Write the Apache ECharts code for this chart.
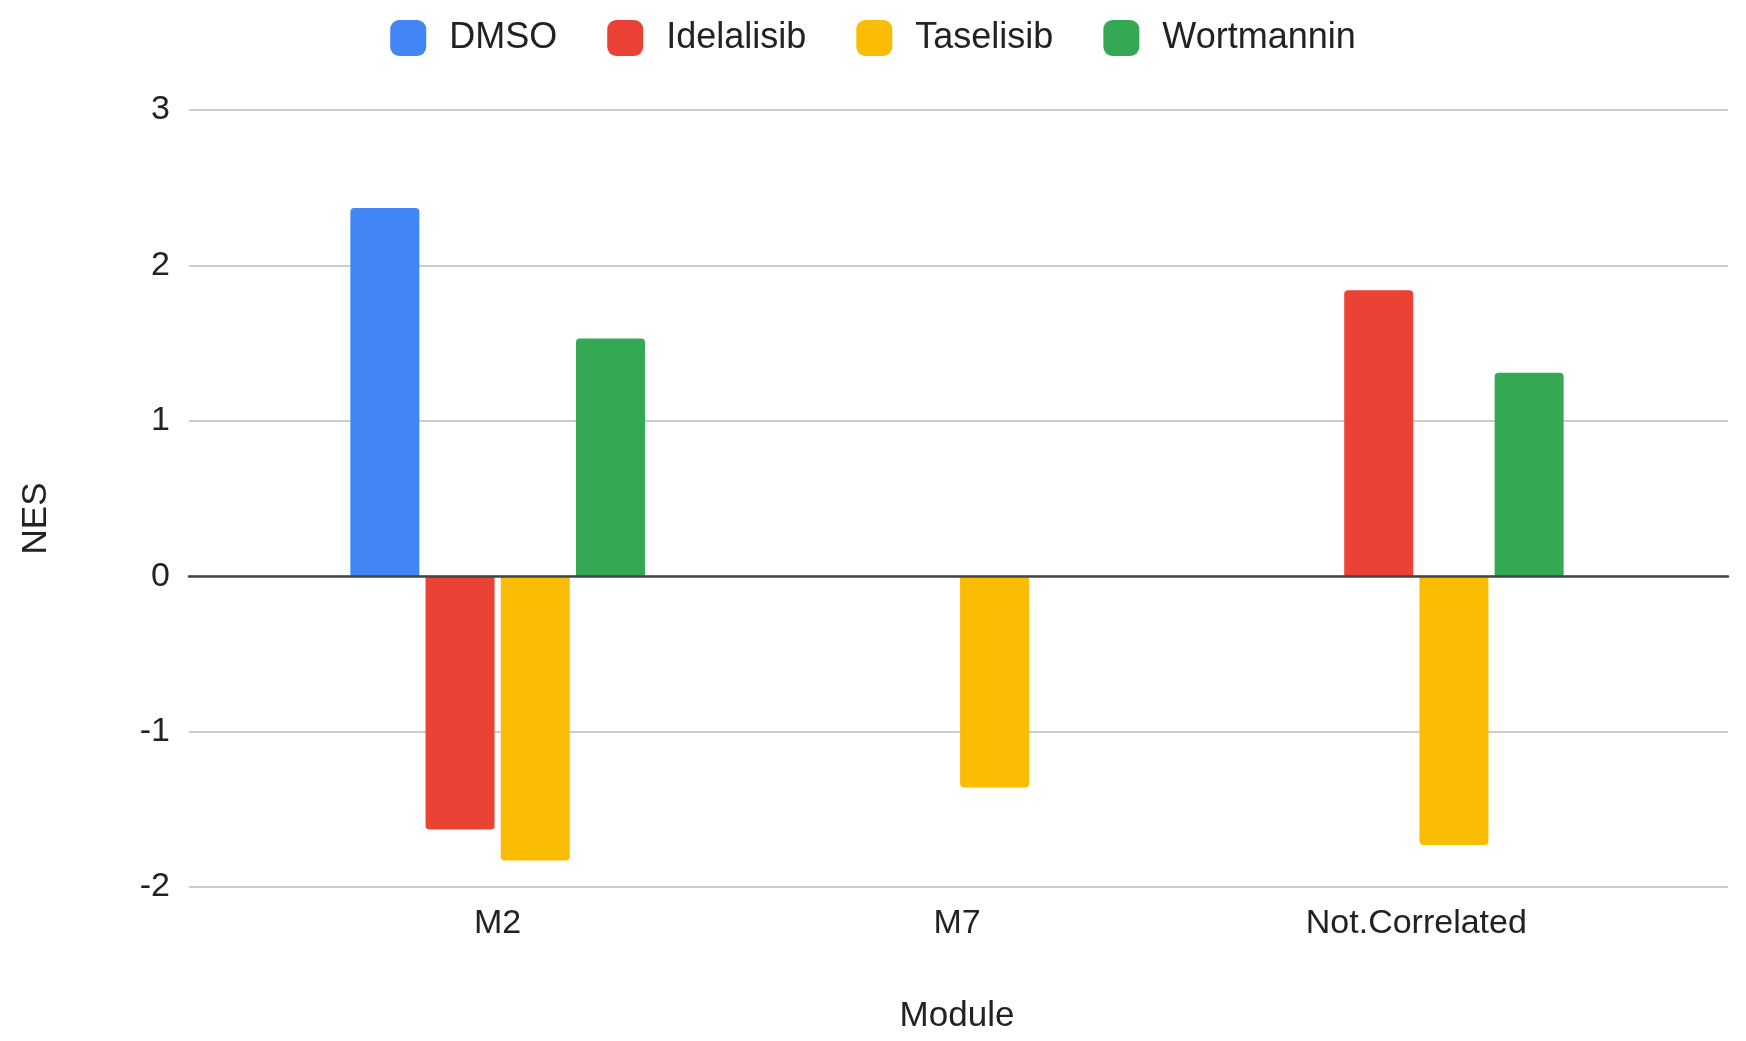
<!DOCTYPE html>
<html>
<head>
<meta charset="utf-8">
<script src="https://cdn.jsdelivr.net/npm/echarts@6/dist/echarts.min.js"></script>
<style>
  html, body { margin: 0; padding: 0; background: #fff; }
  #chart { width: 1746px; height: 1041px; }
</style>
</head>
<body>
<div id="chart"></div>
<script>
const modules = ['M2', 'M7', 'Not.Correlated']
const seriesNames = ['DMSO', 'Idelalisib', 'Taselisib', 'Wortmannin']
const dmso = [2.37, null, null]
const idelalisib = [-1.63, null, 1.84]
const taselisib = [-1.83, -1.36, -1.73]
const wortmannin = [1.53, null, 1.31]
const colors = ['#4285F4', '#EA4335', '#FBBC04', '#34A853']

const font = "'Liberation Sans', Arial, sans-serif"

function toBars(values) {
  return values.map(v => {
    if (v == null) return '-'
    return { value: v, itemStyle: { borderRadius: v >= 0 ? [4, 4, 0, 0] : [0, 0, 4, 4] } }
  })
}

const chart = echarts.init(document.getElementById('chart'))
const allValues = [dmso, idelalisib, taselisib, wortmannin]

const option = {
  animation: false,
  color: colors,
  textStyle: { fontFamily: font },
  legend: {
    data: seriesNames,
    top: 15,
    left: 'center',
    icon: 'roundRect',
    itemWidth: 36,
    itemHeight: 36,
    itemGap: 50,
    textStyle: { fontSize: 36, color: '#222', fontFamily: font, padding: [0, 0, 0, 18] }
  },
  grid: [
    // wide grid: gridlines and zero line
    { left: 189, right: 18, top: 110, bottom: 154 },
    // bar grid
    { left: 268, right: 100, top: 110, bottom: 154 }
  ],
  xAxis: [
    {
      gridIndex: 0,
      type: 'category',
      data: [''],
      z: 5,
      axisLine: { show: true, onZero: true, lineStyle: { color: '#444', width: 2.5 } },
      axisTick: { show: false },
      axisLabel: { show: false },
      splitLine: { show: false }
    },
    {
      gridIndex: 1,
      type: 'category',
      data: modules,
      axisLine: { show: false, onZero: false },
      axisTick: { show: false },
      axisLabel: { fontSize: 34, color: '#222', margin: 20, fontFamily: font },
      name: 'Module',
      nameLocation: 'middle',
      nameGap: 112,
      nameTextStyle: { fontSize: 35, color: '#222', fontFamily: font }
    }
  ],
  yAxis: [
    {
      gridIndex: 0,
      type: 'value',
      min: -2,
      max: 3,
      interval: 1,
      axisLine: { show: false },
      axisTick: { show: false },
      axisLabel: { fontSize: 34, color: '#222', margin: 19, fontFamily: font },
      splitLine: { lineStyle: { color: '#cccccc', width: 2 } },
      name: 'NES',
      nameLocation: 'middle',
      nameGap: 135,
      nameTextStyle: { fontSize: 35, color: '#222', fontFamily: font, padding: [0, 40, 0, 0] }
    },
    {
      gridIndex: 1,
      type: 'value',
      min: -2,
      max: 3,
      interval: 1,
      show: false,
      splitLine: { show: false }
    }
  ],
  series: seriesNames.map((name, i) => ({
    name: name,
    type: 'bar',
    xAxisIndex: 1,
    yAxisIndex: 1,
    barWidth: 69,
    barGap: '9%',
    data: toBars(allValues[i])
  }))
}

chart.setOption(option)
</script>
</body>
</html>
